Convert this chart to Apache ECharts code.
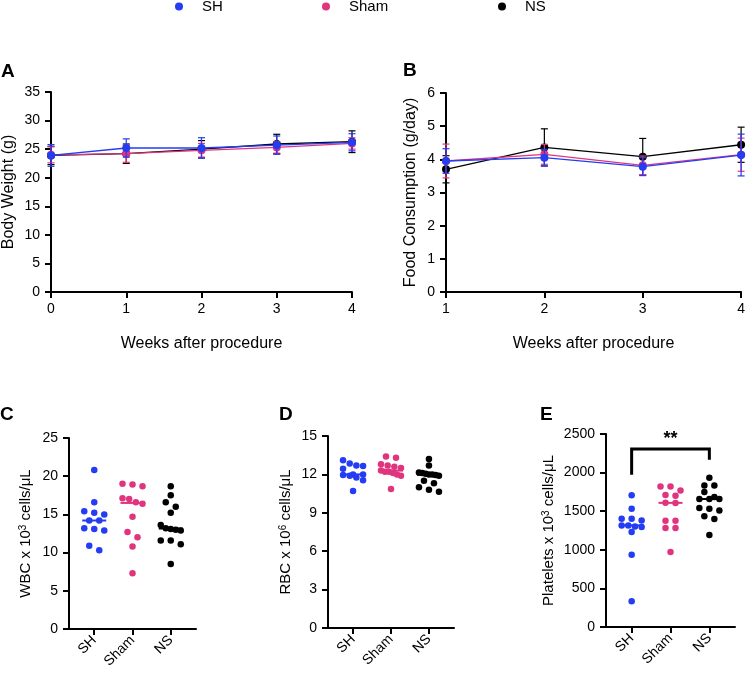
<!DOCTYPE html>
<html>
<head>
<meta charset="utf-8">
<script src="https://cdn.jsdelivr.net/npm/echarts@6/dist/echarts.min.js"></script>
<style>
html,body{margin:0;padding:0;background:#fff;}
#chart{width:748px;height:674px;}
</style>
</head>
<body>
<div id="chart"></div>
<script>
// ---------- data ----------
const groups = ['SH', 'Sham', 'NS'];

// A: body weight (g), mean and SD per week
const weeksA = [0, 1, 2, 3, 4];
const bwMeanSH   = [23.9, 25.2, 25.2, 25.7, 26.2];
const bwSdSH     = [1.9, 1.6, 1.8, 1.6, 1.5];
const bwMeanSham = [24.0, 24.2, 24.8, 25.3, 26.0];
const bwSdSham   = [1.4, 1.5, 1.2, 1.0, 1.0];
const bwMeanNS   = [23.9, 24.2, 25.0, 25.9, 26.3];
const bwSdNS     = [1.6, 1.7, 1.5, 1.7, 1.9];

// B: food consumption (g/day)
const weeksB = [1, 2, 3, 4];
const fcMeanSH   = [3.95, 4.05, 3.78, 4.13];
const fcSdSH     = [0.37, 0.25, 0.27, 0.63];
const fcMeanSham = [3.95, 4.15, 3.82, 4.14];
const fcSdSham   = [0.51, 0.30, 0.28, 0.50];
const fcMeanNS   = [3.70, 4.36, 4.08, 4.44];
const fcSdNS     = [0.41, 0.56, 0.55, 0.53];

// C: WBC x10^3 cells/uL
const wbcSH   = [20.8, 16.6, 15.4, 15.2, 15.0, 14.2, 14.2, 13.2, 13.1, 12.9, 10.9, 10.3];
const wbcSham = [19.0, 18.9, 18.7, 17.1, 17.0, 16.6, 16.4, 14.7, 12.7, 12.0, 10.8, 7.3];
const wbcNS   = [18.7, 17.5, 16.6, 16.0, 15.2, 13.6, 13.2, 13.1, 13.0, 12.9, 11.6, 11.6, 11.1, 8.5];

// D: RBC x10^6 cells/uL
const rbcSH   = [13.1, 12.85, 12.7, 12.65, 12.45, 12.0, 12.0, 11.95, 11.9, 11.75, 11.55, 10.7];
const rbcSham = [13.4, 13.3, 12.8, 12.7, 12.6, 12.5, 12.3, 12.2, 12.2, 12.1, 12.0, 11.9, 10.85];
const rbcNS   = [13.2, 12.7, 12.15, 12.1, 12.05, 12.0, 12.0, 11.95, 11.9, 11.5, 11.3, 11.0, 10.8, 10.65];

// E: platelets x10^3 cells/uL
const pltSH   = [1705, 1532, 1403, 1403, 1381, 1316, 1316, 1303, 1295, 1230, 936, 332];
const pltSham = [1821, 1821, 1769, 1710, 1701, 1610, 1606, 1377, 1377, 1282, 1282, 971];
const pltNS   = [1934, 1834, 1834, 1748, 1684, 1658, 1658, 1658, 1541, 1532, 1510, 1433, 1399, 1191];

// E: significance bracket (SH vs NS)
const bracketX = [0, 2];
const bracketY = [1973, 2306, 2167];
const bracketLabel = '**';
const bracketLabelY = 2440;

// ---------- styles / layout ----------
const colors = { SH: '#243cf2', Sham: '#e0357e', NS: '#000000' };
const FONT = 'Liberation Sans, Arial, Helvetica, sans-serif';
const grids = [
  { left: 51,  top: 92,  width: 301, height: 200 },  // A
  { left: 446, top: 93,  width: 296, height: 199 },  // B
  { left: 69,  top: 438, width: 127, height: 191 },  // C
  { left: 328, top: 436, width: 126, height: 192 },  // D
  { left: 606, top: 434, width: 129, height: 193 }   // E
];
const catMin = -0.66, catMax = 2.66;

function median(arr) {
  const s = arr.slice().sort((a, b) => a - b);
  const n = s.length;
  return n % 2 ? s[(n - 1) / 2] : (s[n / 2 - 1] + s[n / 2]) / 2;
}

// row-based dot-plot layout (offsets in x units)
function swarm(values, yMin, yMax, grid) {
  const hPx = grid.height, unitPx = grid.width / (catMax - catMin);
  const binPx = 6, maxW = 20, maxS = 10;
  const idx = values.map((v, i) => i).sort((a, b) => values[b] - values[a]);
  const py = v => hPx * (yMax - v) / (yMax - yMin);
  const off = new Array(values.length).fill(0);
  let bin = [], start = 0;
  const flush = () => {
    const n = bin.length;
    const s = n > 1 ? Math.min(maxS, maxW / (n - 1)) : 0;
    bin.forEach((i, k) => { off[i] = (k - (n - 1) / 2) * s / unitPx; });
    bin = [];
  };
  idx.forEach(i => {
    const y = py(values[i]);
    if (bin.length && y - start > binPx) flush();
    if (!bin.length) start = y;
    bin.push(i);
  });
  flush();
  return off;
}

const axisLineStyle = { show: true, onZero: false, lineStyle: { color: '#000', width: 2 } };
const tickStyle = { show: true, inside: false, length: 6, lineStyle: { color: '#000', width: 2 } };
const labelStyle = { color: '#000', fontSize: 14, fontFamily: FONT };
const nameStyle = { color: '#000', fontSize: 16, fontFamily: FONT };

function valueYAxis(gi, min, max, interval, name, gap, nameExtra) {
  return {
    type: 'value', gridIndex: gi, min: min, max: max, interval: interval,
    name: name, nameLocation: 'middle', nameGap: gap, nameRotate: 90,
    nameTextStyle: Object.assign({}, nameStyle, nameExtra || {}),
    axisLine: axisLineStyle, axisTick: tickStyle,
    axisLabel: Object.assign({ margin: 11, formatter: v => String(v) }, labelStyle),
    splitLine: { show: false }
  };
}
function weekXAxis(gi, min, max) {
  return {
    type: 'value', gridIndex: gi, min: min, max: max, interval: 1,
    name: 'Weeks after procedure', nameLocation: 'middle', nameGap: 44,
    nameTextStyle: nameStyle,
    axisLine: axisLineStyle, axisTick: tickStyle,
    axisLabel: Object.assign({ margin: 10 }, labelStyle),
    splitLine: { show: false }
  };
}
function catXAxis(gi) {
  return {
    type: 'value', gridIndex: gi, min: catMin, max: catMax,
    axisLine: axisLineStyle,
    axisTick: Object.assign({}, tickStyle, { customValues: [0, 1, 2] }),
    axisLabel: Object.assign({ margin: 9, rotate: 45, customValues: [0, 1, 2],
      formatter: v => groups[Math.round(v)] }, labelStyle),
    splitLine: { show: false }
  };
}

const supRich = { sup: { fontSize: 10, fontFamily: FONT, color: '#000', verticalAlign: 'top', lineHeight: 10, padding: [0, 0, 7, 0] } };

const xAxis = [weekXAxis(0, 0, 4), weekXAxis(1, 1, 4), catXAxis(2), catXAxis(3), catXAxis(4)];
const yAxis = [
  valueYAxis(0, 0, 35, 5, 'Body Weight (g)', 34),
  valueYAxis(1, 0, 6, 1, 'Food Consumption (g/day)', 27),
  valueYAxis(2, 0, 25, 5, 'WBC x 10{sup|3} cells/μL', 36, { fontSize: 15, rich: supRich }),
  valueYAxis(3, 0, 15, 3, 'RBC x 10{sup|6} cells/μL', 35, { fontSize: 15, rich: supRich }),
  valueYAxis(4, 0, 2500, 500, 'Platelets x 10{sup|3} cells/μL', 50, { fontSize: 15, rich: supRich })
];

function errBar(gi, name, xs, means, sds, z) {
  return {
    type: 'custom', name: name, xAxisIndex: gi, yAxisIndex: gi, z: z,
    itemStyle: { color: colors[name] },
    data: xs.map((x, i) => [x, means[i], sds[i]]),
    encode: { x: 0, y: 1 },
    renderItem: function (params, api) {
      const x = api.value(0), m = api.value(1), s = api.value(2);
      const t = api.coord([x, m + s]), b = api.coord([x, m - s]);
      const w = 3.5;
      const st = { stroke: colors[name], lineWidth: 1.2 };
      return { type: 'group', children: [
        { type: 'line', shape: { x1: t[0], y1: t[1], x2: b[0], y2: b[1] }, style: st },
        { type: 'line', shape: { x1: t[0] - w, y1: t[1], x2: t[0] + w, y2: t[1] }, style: st },
        { type: 'line', shape: { x1: b[0] - w, y1: b[1], x2: b[0] + w, y2: b[1] }, style: st }
      ] };
    }
  };
}
function meanLine(gi, name, xs, means, z) {
  return {
    type: 'line', name: name, xAxisIndex: gi, yAxisIndex: gi, z: z,
    data: xs.map((x, i) => [x, means[i]]),
    symbol: 'circle', symbolSize: 8,
    lineStyle: { color: colors[name], width: 1.3 },
    itemStyle: { color: colors[name] }
  };
}

const series = [];
const bw = { SH: [bwMeanSH, bwSdSH], Sham: [bwMeanSham, bwSdSham], NS: [bwMeanNS, bwSdNS] };
const fc = { SH: [fcMeanSH, fcSdSH], Sham: [fcMeanSham, fcSdSham], NS: [fcMeanNS, fcSdNS] };
['NS', 'Sham', 'SH'].forEach((g, k) => {
  series.push(errBar(0, g, weeksA, bw[g][0], bw[g][1], 2 + k * 2));
  series.push(meanLine(0, g, weeksA, bw[g][0], 3 + k * 2));
  series.push(errBar(1, g, weeksB, fc[g][0], fc[g][1], 2 + k * 2));
  series.push(meanLine(1, g, weeksB, fc[g][0], 3 + k * 2));
});

const dotPanels = [
  { gi: 2, min: 0, max: 25, data: { SH: wbcSH, Sham: wbcSham, NS: wbcNS } },
  { gi: 3, min: 0, max: 15, data: { SH: rbcSH, Sham: rbcSham, NS: rbcNS } },
  { gi: 4, min: 0, max: 2500, data: { SH: pltSH, Sham: pltSham, NS: pltNS } }
];
dotPanels.forEach(p => {
  groups.forEach((g, ci) => {
    const vals = p.data[g];
    const off = swarm(vals, p.min, p.max, grids[p.gi]);
    series.push({
      type: 'scatter', name: g, xAxisIndex: p.gi, yAxisIndex: p.gi, z: 3,
      symbol: 'circle', symbolSize: 6.5,
      itemStyle: { color: colors[g], opacity: 1 },
      data: vals.map((v, i) => [ci + off[i], v])
    });
    series.push({
      type: 'custom', name: g, xAxisIndex: p.gi, yAxisIndex: p.gi, z: 4,
      itemStyle: { color: colors[g] },
      data: [[ci, median(vals)]],
      renderItem: function (params, api) {
        const c = api.coord([api.value(0), api.value(1)]);
        return { type: 'line', shape: { x1: c[0] - 12, y1: c[1], x2: c[0] + 12, y2: c[1] },
          style: { stroke: colors[g], lineWidth: 2 } };
      }
    });
  });
});

series.push({
  type: 'custom', xAxisIndex: 4, yAxisIndex: 4, z: 5, silent: true,
  data: [[bracketX[0], bracketX[1]]],
  renderItem: function (params, api) {
    const p1 = api.coord([bracketX[0], bracketY[0]]);
    const p2 = api.coord([bracketX[0], bracketY[1]]);
    const p3 = api.coord([bracketX[1], bracketY[1]]);
    const p4 = api.coord([bracketX[1], bracketY[2]]);
    const pl = api.coord([(bracketX[0] + bracketX[1]) / 2, bracketLabelY]);
    return { type: 'group', children: [
      { type: 'polyline', shape: { points: [p1, p2, p3, p4] },
        style: { stroke: '#000', lineWidth: 3, fill: null, lineJoin: 'miter' } },
      { type: 'text', x: pl[0], y: pl[1],
        style: { text: bracketLabel, fontSize: 18, fontWeight: 'bold', fontFamily: FONT,
          fill: '#000', align: 'center', verticalAlign: 'middle' } }
    ] };
  }
});

function letter(t, x, y) {
  return { type: 'text', x: x, y: y,
    style: { text: t, fontSize: 19, fontWeight: 'bold', fontFamily: FONT, fill: '#000',
      align: 'left', verticalAlign: 'middle' } };
}

function legendItem(name, left) {
  return {
    data: [name], left: left, top: -1, padding: 0, icon: 'circle',
    itemWidth: 8, itemHeight: 8, selectedMode: false,
    textStyle: { color: '#000', fontSize: 15, fontFamily: FONT, padding: [0, 0, 0, 14] }
  };
}

const chart = echarts.init(document.getElementById('chart'), null, { renderer: 'canvas' });
chart.setOption({
  animation: false,
  backgroundColor: '#fff',
  textStyle: { fontFamily: FONT },
  legend: [legendItem('SH', 175), legendItem('Sham', 322), legendItem('NS', 498)],
  grid: grids,
  xAxis: xAxis,
  yAxis: yAxis,
  series: series,
  graphic: [letter('A', 1, 72), letter('B', 403, 71), letter('C', 0, 415),
            letter('D', 279, 415), letter('E', 540, 415)]
});
</script>
</body>
</html>
